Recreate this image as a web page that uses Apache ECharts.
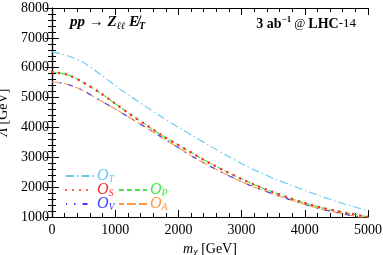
<!DOCTYPE html>
<html><head><meta charset="utf-8">
<script src="https://cdn.jsdelivr.net/npm/echarts@6/dist/echarts.min.js"></script>
<style>html,body{margin:0;padding:0;background:#fff}#c{width:383px;height:255px}</style>
</head><body><div id="c"></div>
<script>
const mass = [0,250,500,750,1000,1250,1500,1750,2000,2250,2500,2750,3000,3250,3500,3750,4000,4250,4500,4750,5000];
const opT = [6530,6400,6170,5800,5400,5030,4680,4330,4000,3690,3380,3080,2790,2530,2300,2090,1890,1700,1520,1360,1210];
const opS = [5860,5760,5500,5175,4800,4420,4070,3720,3410,3100,2800,2530,2270,2040,1830,1640,1470,1320,1200,1100,1000];
const opP = opS.slice();
const opA = [5530,5440,5225,4920,4620,4300,3980,3650,3320,2990,2700,2430,2180,1960,1770,1590,1420,1270,1150,1040,940];
const opV = opA.slice();
const xTicks = [0,1000,2000,3000,4000,5000];
const yTicks = [1000,2000,3000,4000,5000,6000,7000,8000];

const SERIF = "'Liberation Serif','DejaVu Serif',serif";
const pairs = v => mass.map((m,i)=>[m,v[i]]);
const C = {T:'#66c8f5', S:'#ff3030', P:'#40e840', V:'#4040ff', A:'#ff9a40'};

function legendItem(name, left, top){
  return {
    data:[name], left:left, top:top, itemWidth:28, itemHeight:10, itemGap:0,
    padding:0, selectedMode:false,
    itemStyle:{opacity:0, borderWidth:0},
    formatter: () => '{o|O}{s|' + name + '}',
    textStyle:{
      padding:[0,0,0,-2],
      rich:{
        o:{fontFamily:SERIF, fontStyle:'italic', fontSize:16, color:C[name], lineHeight:16},
        s:{fontFamily:SERIF, fontStyle:'italic', fontSize:10, color:C[name], lineHeight:16, verticalAlign:'bottom', padding:[6,0,0,0]}
      }
    }
  };
}

const axisCommon = {
  type:'value', min:0, max:5000, interval:1000,
  axisLine:{lineStyle:{color:'#000', width:1.2}},
  axisTick:{inside:true, length:7, lineStyle:{color:'#000', width:1}},
  minorTick:{show:true, splitNumber:5, length:4, lineStyle:{color:'#000', width:1}},
  splitLine:{show:false}
};
const yCommon = Object.assign({}, axisCommon, {min:1000, max:8000, interval:1000});

const chart = echarts.init(document.getElementById('c'), null, {renderer:'canvas'});
chart.setOption({
  animation:false,
  grid:{left:52, right:15, top:8, bottom:38, containLabel:false, outerBoundsMode:'none'},
  xAxis:[
    Object.assign({}, axisCommon, {position:'bottom',
      axisLabel:{fontFamily:SERIF, fontSize:14, color:'#000', margin:6,
        formatter: v => xTicks.includes(v) ? String(v) : ''},
      name:'{i|m}{s|χ} [GeV]', nameLocation:'middle', nameGap:22,
      nameTextStyle:{fontFamily:SERIF, fontSize:14, color:'#000',
        rich:{i:{fontFamily:SERIF, fontStyle:'italic', fontSize:14},
              s:{fontFamily:SERIF, fontStyle:'italic', fontSize:10, verticalAlign:'bottom', padding:[6,0,0,0]}}}
    }),
    Object.assign({}, axisCommon, {position:'top', axisLabel:{show:false}})
  ],
  yAxis:[
    Object.assign({}, yCommon, {position:'left',
      axisLabel:{fontFamily:SERIF, fontSize:14, color:'#000', margin:3,
        formatter: v => yTicks.includes(v) ? String(v) : ''},
      name:'{i|Λ} [GeV]', nameLocation:'middle', nameGap:35, nameRotate:90,
      nameTextStyle:{fontFamily:SERIF, fontSize:14, color:'#000',
        rich:{i:{fontFamily:SERIF, fontStyle:'italic', fontSize:14}}}
    }),
    Object.assign({}, yCommon, {position:'right', axisLabel:{show:false}})
  ],
  legend:[
    legendItem('T', 65, 168),
    legendItem('S', 65, 182),
    legendItem('P', 118, 182),
    legendItem('V', 65, 196),
    legendItem('A', 118, 196)
  ],
  graphic:[
    {type:'text', left:70, top:15, style:{
      text:'{b|pp → Z}{s|ℓℓ}{b| E̸}{s|T}',
      rich:{
        b:{fontFamily:SERIF, fontStyle:'italic', fontWeight:'bold', fontSize:15, fill:'#000', lineHeight:18},
        s:{fontFamily:SERIF, fontStyle:'italic', fontWeight:'bold', fontSize:10, fill:'#000', lineHeight:18, verticalAlign:'bottom', padding:[6,0,0,0]}
      }}},
    {type:'text', right:27, top:15, style:{
      text:'{b|3 ab}{u|−1}{m| @ }{b|LHC}{r|-14}',
      rich:{
        b:{fontFamily:SERIF, fontWeight:'bold', fontSize:14, fill:'#000', lineHeight:18},
        u:{fontFamily:SERIF, fontWeight:'bold', fontSize:9, fill:'#000', lineHeight:18, verticalAlign:'top', padding:[0,0,6,0]},
        m:{fontFamily:SERIF, fontSize:12, fill:'#000', lineHeight:18},
        r:{fontFamily:SERIF, fontSize:13, fill:'#000', lineHeight:18}
      }}}
  ],
  series:[
    {name:'T', type:'line', data:pairs(opT), smooth:0.3, symbol:'none', clip:true,
     lineStyle:{color:C.T, width:1.1, type:[8,3,1.5,3]}, itemStyle:{color:C.T}},
    {name:'A', type:'line', data:pairs(opA), smooth:0.3, symbol:'none', clip:true,
     lineStyle:{color:C.A, width:1.1, type:[9,3]}, itemStyle:{color:C.A}},
    {name:'V', type:'line', data:pairs(opV), smooth:0.3, symbol:'none', clip:true,
     lineStyle:{color:C.V, width:1.1, type:[5,7,1.5,7], dashOffset:4}, itemStyle:{color:C.V}},
    {name:'P', type:'line', data:pairs(opP), smooth:0.3, symbol:'none', clip:true,
     lineStyle:{color:C.P, width:1.1, type:[5,3]}, itemStyle:{color:C.P}},
    {name:'S', type:'line', data:pairs(opS), smooth:0.3, symbol:'none', clip:true,
     lineStyle:{color:C.S, width:2.6, type:[0.01,7], cap:'round'}, itemStyle:{color:C.S}}
  ]
});
</script></body></html>
